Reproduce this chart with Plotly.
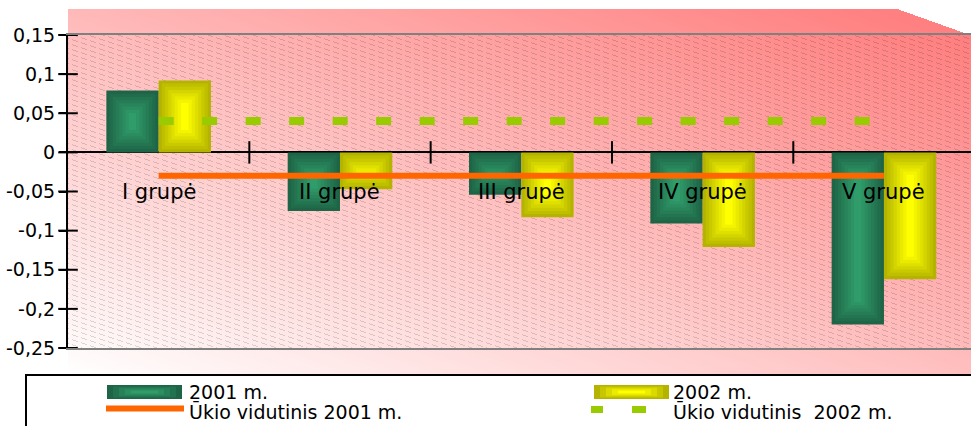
import base64
import struct
import zlib

import numpy as np
import plotly.graph_objects as go

# ---------------- data ----------------
categories = ["I grupė", "II grupė", "III grupė", "IV grupė", "V grupė"]
values_2001 = [0.079, -0.075, -0.054, -0.091, -0.220]
values_2002 = [0.092, -0.047, -0.083, -0.121, -0.162]
avg_2001 = [-0.03, -0.03, -0.03, -0.03, -0.03]
avg_2002 = [0.04, 0.04, 0.04, 0.04, 0.04]
tick_vals = [0.15, 0.1, 0.05, 0, -0.05, -0.1, -0.15, -0.2, -0.25]
tick_text = ["0,15", "0,1", "0,05", "0", "-0,05", "-0,1", "-0,15", "-0,2", "-0,25"]
series_names = ["2001 m.", "2002 m.", "Ūkio vidutinis 2001 m.", "Ūkio vidutinis\u00a0 2002 m."]

# ---------------- geometry / style ----------------
W, H = 971, 426
L, T = 68, 35
PW, PH = W - L, 313
XR = [-0.5, 4.48]
YR = [-0.25, 0.15]
px_x = PW / (XR[1] - XR[0])
px_y = PH / (YR[1] - YR[0])
FONT = "DejaVu Sans"

GREEN_OUT, GREEN_IN = (30, 100, 70), (48, 156, 106)
YEL_OUT, YEL_IN = (180, 180, 0), (255, 255, 0)
ORANGE = "#ff6600"
LIME = "#99cc00"


def px2paper_x(p):
    return (p - L) / PW


def px2paper_y(p):
    return (T + PH - p) / PH


def lerp(c1, c2, t):
    return "rgb(%d,%d,%d)" % tuple(round(a + (b - a) * t) for a, b in zip(c1, c2))


# ---------------- background image (gradient + hatch) ----------------
def png_uri(arr):
    h, w, _ = arr.shape
    raw = b"".join(b"\x00" + arr[r].tobytes() for r in range(h))

    def chunk(tag, data):
        c = struct.pack(">I", len(data)) + tag + data
        return c + struct.pack(">I", zlib.crc32(tag + data) & 0xFFFFFFFF)

    png = (b"\x89PNG\r\n\x1a\n"
           + chunk(b"IHDR", struct.pack(">IIBBBBB", w, h, 8, 2, 0, 0, 0))
           + chunk(b"IDAT", zlib.compress(raw, 9))
           + chunk(b"IEND", b""))
    return "data:image/png;base64," + base64.b64encode(png).decode()


yy, xx = np.mgrid[0:H, 0:W]
yy = yy.astype(float)
xx = xx.astype(float)
t = np.clip(0.5 * (xx - L) / PW + 0.55 * (375 - yy) / 366, 0, 1)
pink = np.array([255.0, 128.0, 128.0])
grad = 255.0 * (1 - t)[..., None] + pink * t[..., None]
img = np.full((H, W, 3), 255.0)
mask = (xx >= L) & (yy >= 9) & (yy < 375) & (yy >= 9 + (xx - 898) * 26 / 73)
img[mask] = grad[mask]
hatch = ((xx >= L) & (yy >= T) & (yy < T + PH)
         & (((3 * yy - xx) % 15) < 3) & ((xx % 9) < 6))
img[hatch] *= 0.86
bg_uri = png_uri(np.clip(img, 0, 255).astype(np.uint8))

# ---------------- figure ----------------
fig = go.Figure()
x_idx = np.arange(len(categories))
BW = 0.2885
N = 8
step = 3.2
dx = step / px_x
dy = step / px_y


def pillow_bars(vals, left, c_out, c_in):
    v = np.array(vals, dtype=float)
    s = np.sign(v)
    for k in range(N):
        ins = k * dy
        ok = np.abs(v) > 2 * ins + 0.5 * dy
        base = [float(si * ins) if o else None for si, o in zip(s, ok)]
        ys = [float(vi - 2 * si * ins) if o else None for vi, si, o in zip(v, s, ok)]
        fig.add_bar(x=x_idx, y=ys, base=base, width=BW - 2 * k * dx,
                    offset=left + k * dx,
                    marker=dict(color=lerp(c_out, c_in, k / (N - 1)), line=dict(width=0)),
                    hoverinfo="skip", showlegend=False)


pillow_bars(values_2001, -BW, GREEN_OUT, GREEN_IN)
pillow_bars(values_2002, 0.0, YEL_OUT, YEL_IN)

fig.add_scatter(x=x_idx, y=avg_2002, mode="lines", name=series_names[3],
                line=dict(color=LIME, width=8, dash="15px,28.5px"), showlegend=False)
fig.add_scatter(x=x_idx, y=avg_2001, mode="lines", name=series_names[2],
                line=dict(color=ORANGE, width=6), showlegend=False)

# category separator ticks crossing the zero line
fig.add_scatter(x=x_idx[:-1] + 0.5, y=np.zeros(len(categories) - 1),
                mode="markers", hoverinfo="skip", showlegend=False,
                marker=dict(symbol="line-ns", size=16, color="black",
                            line=dict(color="black", width=2)))
# value ticks crossing the y axis line
fig.add_scatter(x=[XR[0]] * len(tick_vals), y=tick_vals, cliponaxis=False,
                mode="markers", hoverinfo="skip", showlegend=False,
                marker=dict(symbol="line-ew", size=14, color="black",
                            line=dict(color="black", width=2)))

annotations = []
for i, c in enumerate(categories):
    annotations.append(dict(x=i, y=-0.0505, xref="x", yref="y", text=c, showarrow=False,
                            font=dict(family=FONT, size=21, color="black"),
                            xanchor="center", yanchor="middle"))

# ---------------- custom legend ----------------
shapes = [dict(type="rect", xref="paper", yref="paper",
               x0=px2paper_x(26), x1=px2paper_x(990),
               y0=px2paper_y(375), y1=px2paper_y(445),
               line=dict(color="black", width=2), fillcolor="white", layer="above")]


def swatch(x0, y0, x1, y1, c_out, c_in, n=5):
    for k in range(n):
        ix, iy = k * 6, k * 1.4
        shapes.append(dict(type="rect", xref="paper", yref="paper",
                           x0=px2paper_x(x0 + ix), x1=px2paper_x(x1 - ix),
                           y0=px2paper_y(y0 + iy), y1=px2paper_y(y1 - iy),
                           line=dict(width=0), fillcolor=lerp(c_out, c_in, k / (n - 1)),
                           layer="above"))


swatch(107, 385, 182, 399, GREEN_OUT, GREEN_IN)
swatch(594, 385, 669, 399, YEL_OUT, YEL_IN)
shapes.append(dict(type="line", xref="paper", yref="paper",
                   x0=px2paper_x(106), x1=px2paper_x(184),
                   y0=px2paper_y(408.5), y1=px2paper_y(408.5),
                   line=dict(color=ORANGE, width=6), layer="above"))
for a, b in [(591, 603), (632, 646)]:
    shapes.append(dict(type="rect", xref="paper", yref="paper",
                       x0=px2paper_x(a), x1=px2paper_x(b),
                       y0=px2paper_y(406), y1=px2paper_y(413),
                       line=dict(width=0), fillcolor=LIME, layer="above"))

for name, (px, py) in zip(series_names, [(187, 392), (671, 392), (187, 411), (671, 411)]):
    annotations.append(dict(x=px2paper_x(px), y=px2paper_y(py), xref="paper", yref="paper",
                            text=name, showarrow=False, xanchor="left", yanchor="middle",
                            font=dict(family=FONT, size=19, color="black")))

fig.update_layout(
    width=W, height=H,
    margin=dict(l=L, r=0, t=T, b=H - T - PH, pad=0),
    paper_bgcolor="white", plot_bgcolor="rgba(0,0,0,0)",
    barmode="overlay", showlegend=False,
    font=dict(family=FONT, size=18, color="black"),
    xaxis=dict(range=XR, showline=True, linecolor="#808080", linewidth=2, mirror=True,
               showgrid=False, zeroline=False, showticklabels=False, ticks="",
               fixedrange=True),
    yaxis=dict(range=YR, tickvals=tick_vals, ticktext=tick_text, ticks="outside",
               ticklen=7, tickwidth=2, tickcolor="black", showline=True,
               linecolor="black", linewidth=2, showgrid=False, zeroline=True,
               zerolinecolor="black", zerolinewidth=2, layer="above traces",
               tickfont=dict(family=FONT, size=19, color="black"), fixedrange=True),
    images=[dict(source=bg_uri, xref="paper", yref="paper",
                 x=px2paper_x(0), y=px2paper_y(0), sizex=W / PW, sizey=H / PH,
                 xanchor="left", yanchor="top", sizing="stretch", layer="below")],
    shapes=shapes,
    annotations=annotations,
)

fig.write_html("out.html")
